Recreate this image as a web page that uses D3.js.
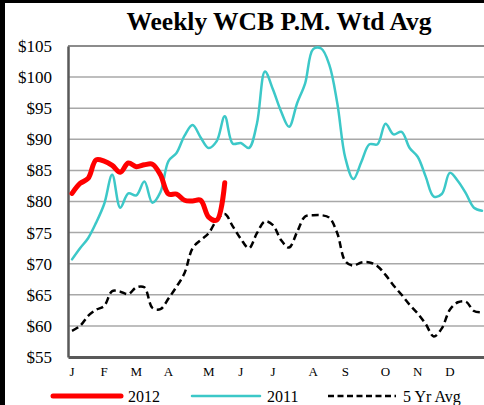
<!DOCTYPE html>
<html>
<head>
<meta charset="utf-8">
<script src="https://cdn.jsdelivr.net/npm/d3@7"></script>
<style>
  html, body { margin: 0; padding: 0; background: #fff; }
  svg { display: block; }
</style>
</head>
<body>
<svg id="chart" width="484" height="405"></svg>
<script>
// Weekly prices, week 0 = first week of January
const weeks = d3.range(52);

const monthLabels = ["J", "F", "M", "A", "M", "J", "J", "A", "S", "O", "N", "D"];
const monthWeeks  = [0, 4, 8, 12, 17, 21, 25, 30, 34, 39, 43, 47];

const yTicks = [55, 60, 65, 70, 75, 80, 85, 90, 95, 100, 105];

const values2012 = [81.3, 82.9, 83.7, 86.7, 86.5, 85.8, 84.7, 86.2, 85.6, 85.9,
  86.0, 84.3, 81.2, 81.2, 80.2, 80.1, 80.2, 77.5, 77.0, 83.0];

const values2011 = [70.7, 72.5, 74.1, 76.6, 79.6, 84.3, 79.0, 81.3, 81.0, 83.2,
  79.8, 81.5, 86.5, 87.8, 90.6, 92.3, 90.3, 88.6, 89.7, 93.7,
  89.3, 89.4, 88.6, 92.5, 100.9, 98.0, 94.5, 92.0, 95.8, 99.0,
  104.5, 104.6, 102.0, 95.8, 87.0, 83.6, 86.4, 89.2, 89.2, 92.5,
  90.8, 91.2, 88.6, 87.2, 84.0, 80.8, 81.2, 84.6, 83.3, 81.3,
  79.0, 78.5];

const values5yr = [59.2, 60.0, 61.6, 62.6, 63.2, 65.6, 65.5, 65.1, 66.2, 66.2,
  62.9, 62.7, 64.4, 66.3, 68.5, 72.5, 73.8, 74.9, 77.0, 78.0,
  76.0, 74.0, 72.5, 74.9, 76.8, 76.2, 73.8, 72.6, 75.1, 77.6,
  77.8, 77.8, 77.4, 74.9, 70.4, 69.7, 70.2, 70.2, 69.6, 68.2,
  66.5, 65.0, 63.4, 62.0, 60.3, 58.3, 59.6, 62.6, 63.8, 63.9,
  62.4, 62.2];

const series = [
  { name: "2012",     values: values2012, color: "#ff0000", width: 5,   dash: null },
  { name: "2011",     values: values2011, color: "#3cc8c8", width: 2.5, dash: null },
  { name: "5 Yr Avg", values: values5yr,  color: "#000000", width: 2.5, dash: "7,4" }
];

const svg = d3.select("#chart");
const serif = "'Liberation Serif', 'Times New Roman', serif";

const plot = { left: 68, top: 46, bottom: 357, right: 486 };

const x = d3.scaleBand().domain(weeks).range([plot.left, plot.right]);
const xc = w => x(w) + x.bandwidth() / 2;
const y = d3.scaleLinear().domain([55, 105]).range([plot.bottom, plot.top]);

// frame edges
svg.append("rect").attr("x", 0).attr("y", 0).attr("width", 5).attr("height", 405).attr("fill", "#000");
svg.append("rect").attr("x", 0).attr("y", 0).attr("width", 484).attr("height", 3).attr("fill", "#000");

// title
svg.append("text")
  .attr("x", 279).attr("y", 30)
  .attr("text-anchor", "middle")
  .attr("font-family", serif)
  .attr("font-weight", "bold")
  .attr("font-size", 25.5)
  .text("Weekly WCB P.M. Wtd Avg");

// horizontal gridlines
svg.append("g").selectAll("line")
  .data(yTicks.filter(d => d > 55))
  .join("line")
  .attr("x1", plot.left).attr("x2", 484)
  .attr("y1", d => y(d)).attr("y2", d => y(d))
  .attr("stroke", d => d === 105 ? "#8c8c8c" : "#a8a8a8")
  .attr("stroke-width", d => d === 105 ? 2 : 1.5);

// y axis
const yAxis = svg.append("g")
  .attr("transform", `translate(${plot.left},0)`)
  .call(d3.axisLeft(y).tickValues(yTicks).tickFormat(d => "$" + d).tickSize(0).tickPadding(16));
yAxis.select(".domain").attr("stroke", "#595959").attr("stroke-width", 2.5);
yAxis.selectAll("text").attr("font-family", serif).attr("font-size", 17).attr("fill", "#000");

// x axis
const xAxis = svg.append("g")
  .attr("transform", `translate(0,${plot.bottom})`)
  .call(d3.axisBottom(x).tickValues(monthWeeks)
    .tickFormat(w => monthLabels[monthWeeks.indexOf(w)]).tickSize(0).tickPadding(10));
xAxis.select(".domain").attr("stroke", "#595959").attr("stroke-width", 3);
xAxis.selectAll("text").attr("font-family", serif).attr("font-size", 13).attr("fill", "#000");

// series lines
const line = d3.line()
  .x((d, i) => xc(i))
  .y(d => y(d))
  .curve(d3.curveCatmullRom.alpha(0.5));

const order = [series[2], series[1], series[0]];
svg.append("g").selectAll("path")
  .data(order)
  .join("path")
  .attr("d", s => line(s.values))
  .attr("fill", "none")
  .attr("stroke", s => s.color)
  .attr("stroke-width", s => s.width)
  .attr("stroke-dasharray", s => s.dash)
  .attr("stroke-linejoin", "round")
  .attr("stroke-linecap", s => s.dash ? "butt" : "round");

// legend
const legendX = [53, 192, 328];
const leg = svg.append("g").selectAll("g")
  .data(series)
  .join("g")
  .attr("transform", (s, i) => `translate(${legendX[i]},396)`);
leg.append("line")
  .attr("x1", 0).attr("x2", 68).attr("y1", 0).attr("y2", 0)
  .attr("stroke", s => s.color)
  .attr("stroke-width", s => s.width)
  .attr("stroke-dasharray", s => s.dash ? "6,3.5" : null)
  .attr("stroke-linecap", s => s.dash ? "butt" : "round");
leg.append("text")
  .attr("x", 75).attr("y", 0).attr("dy", "0.35em")
  .attr("font-family", serif).attr("font-size", 16)
  .text(s => s.name);
</script>
</body>
</html>
